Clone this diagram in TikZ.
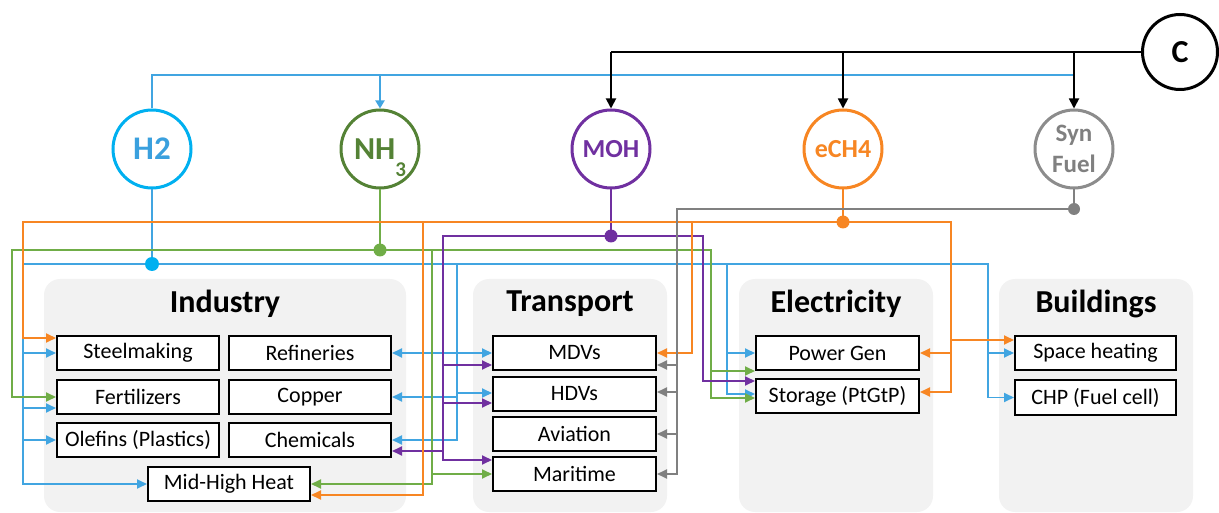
\documentclass[tikz,border=0pt]{standalone}
\usepackage{fontspec}
\setmainfont{Carlito}
\usetikzlibrary{arrows.meta,calc}

\definecolor{panelgray}{RGB}{242,242,242}
\definecolor{hcyan}{RGB}{0,176,240}
\definecolor{htext}{RGB}{58,160,222}
\definecolor{hblue}{RGB}{65,165,225}
\definecolor{ncircle}{RGB}{84,130,53}
\definecolor{ngreen}{RGB}{112,173,71}
\definecolor{mpurple}{RGB}{112,48,160}
\definecolor{eorange}{RGB}{247,134,35}
\definecolor{sgray}{RGB}{128,128,128}
\definecolor{scircle}{RGB}{140,140,140}

\begin{document}
\begin{tikzpicture}[x=1pt,y=-1pt,
  panel/.style={fill=panelgray,rounded corners=16pt},
  hdr/.style={font=\bfseries\fontsize{32}{38}\selectfont},
  sbox/.style={draw,line width=2pt,fill=white,minimum width=162pt,minimum height=34pt,inner sep=0pt,font=\fontsize{22}{26}\selectfont},
  fuel/.style={circle,line width=3pt,minimum size=78pt,inner sep=0pt,fill=white,font=\bfseries\fontsize{26}{31}\selectfont},
  link/.style={line width=1.8pt},
  tip/.style={-{Triangle[length=10pt,width=9pt]}},
  jdot/.style={circle,inner sep=0pt,minimum size=13pt},
]
\useasboundingbox (0,0) rectangle (1219,513);

% sector panels
\begin{scope}
  \clip (0,0) rectangle (1219,513);
  \path[panel] (44,279) rectangle (406,512);
  \path[panel] (473,279) rectangle (667,512);
  \path[panel] (739,279) rectangle (933,512);
  \path[panel] (999,279) rectangle (1193,512);
\end{scope}
\node[hdr] (tind) at (225,304) {Industry};
\node[hdr] (ttra) at (570,304) {Transport};
\node[hdr] (tele) at (836,304) {Electricity};
\node[hdr] (tbui) at (1096,304) {Buildings};

% end uses
\node[sbox] (steel)  at (138,353) {Steelmaking};
\node[sbox] (refin)  at (310,353) {Refineries};
\node[sbox] (fert)   at (138,397) {Fertilizers};
\node[sbox] (copper) at (310,397) {Copper};
\node[sbox] (olef)   at (138,440) {Olefins (Plastics)};
\node[sbox] (chem)   at (310,440) {Chemicals};
\node[sbox] (heat)   at (229,484) {Mid-High Heat};
\node[sbox,minimum width=163pt] (mdv) at (574.5,353) {MDVs};
\node[sbox,minimum width=163pt] (hdv) at (574.5,394) {HDVs};
\node[sbox,minimum width=163pt] (avi) at (574.5,434) {Aviation};
\node[sbox,minimum width=163pt] (mar) at (574.5,474) {Maritime};
\node[sbox,minimum width=163pt] (pgen) at (837.5,353) {Power Gen};
\node[sbox,minimum width=163pt] (stor) at (837.5,396) {Storage (PtGtP)};
\node[sbox,minimum width=161pt] (space) at (1095.5,353) {Space heating};
\node[sbox,minimum width=161pt,minimum height=35pt] (chp) at (1095.5,397.5) {CHP (Fuel cell)};

% carriers
\node[fuel,draw=hcyan,text=htext,font=\bfseries\fontsize{33}{40}\selectfont] (h2) at (152,149) {H2};
\node[fuel,draw=ncircle,text=ncircle,font=\bfseries\fontsize{32}{38}\selectfont] (nh3) at (380,149)
  {NH\raisebox{-17pt}[0pt][0pt]{\fontsize{21}{21}\selectfont 3}};
\node[fuel,draw=mpurple,text=mpurple] (moh) at (611,149) {MOH};
\node[fuel,draw=eorange,text=eorange] (ech4) at (843,149) {eCH4};
\node[fuel,draw=scircle,text=sgray,align=center,font=\bfseries\fontsize{25}{31}\selectfont] (syn) at (1074,149) {Syn\\Fuel};
\node[fuel,draw=black,minimum size=75pt,font=\bfseries\fontsize{32}{38}\selectfont] (c) at (1180,52) {C};

% hydrogen feed line and carbon feed line
\coordinate (hb) at (152,75);
\coordinate (hn) at (380,75);
\coordinate (hs) at (1074,75);
\draw[link,hblue] (h2.north) -- (hb) -- (hs);
\draw[link,hblue,-{Triangle[length=8pt,width=9pt]}] (hn) -- (nh3.north);
\coordinate (cm) at (611,52);
\coordinate (ce) at (843,52);
\coordinate (cs) at (1074,52);
\draw[link,black] (c.west) -- (cm);
\draw[link,black,-{Triangle[length=10pt,width=10pt]}] (cm) -- (moh.north);
\draw[link,black,-{Triangle[length=10pt,width=10pt]}] (ce) -- (ech4.north);
\draw[link,black,-{Triangle[length=10pt,width=10pt]}] (cs) -- (syn.north);

% junction points
\coordinate (hd) at (152,264);
\coordinate (nd) at (380,250);
\coordinate (md) at (611,236);
\coordinate (od) at (843,222);
\coordinate (sd) at (1074,209);

% H2 distribution
\coordinate (b1) at (23,264);
\coordinate (b2) at (457,264);
\coordinate (b3) at (727,264);
\coordinate (b4) at (988,264);
\draw[link,hblue] (h2.south) -- (hd);
\draw[link,hblue,tip] (hd) -- (b1) |- (steel.west);
\draw[link,hblue,tip] (b1) |- ($(fert.west)+(0,11)$);
\draw[link,hblue,tip] (b1) |- (olef.west);
\draw[link,hblue,tip] (b1) |- (heat.west);
\draw[link,hblue,tip] (hd) -- (b2) |- (mdv.west);
\draw[link,hblue,tip] (b2) |- (refin.east);
\draw[link,hblue,tip] (b2) |- (copper.east);
\draw[link,hblue,tip] (b2) |- ($(hdv.west)+(0,-1)$);
\draw[link,hblue,tip] (b2) |- (chem.east);
\draw[link,hblue,tip] (b2) -- (b3) |- (pgen.west);
\draw[link,hblue,tip] (b3) |- ($(stor.west)+(0,-2)$);
\draw[link,hblue,tip] (b3) -- (b4) |- (space.west);
\draw[link,hblue,tip] (b4) |- (chp.west);

% NH3 distribution
\coordinate (g1) at (12,250);
\coordinate (g2) at (432,250);
\coordinate (g3) at (711,250);
\draw[link,ngreen] (nh3.south) -- (nd);
\draw[link,ngreen,tip] (nd) -- (g1) |- (fert.west);
\draw[link,ngreen,tip] (nd) -- (g2) |- (heat.east);
\draw[link,ngreen,tip] (g2) |- (mar.west);
\draw[link,ngreen,tip] (g2) -- (g3) |- (pgen.south west);
\draw[link,ngreen,tip] (g3) |- ($(stor.west)+(0,2)$);

% methanol distribution
\coordinate (p1) at (443,236);
\coordinate (p2) at (703,236);
\draw[link,mpurple] (moh.south) -- (md);
\draw[link,mpurple,tip] (md) -- (p1) |- ($(mdv.west)+(0,12)$);
\draw[link,mpurple,tip] (p1) |- ($(hdv.west)+(0,9)$);
\draw[link,mpurple,tip] (p1) |- ($(chem.east)+(0,11)$);
\draw[link,mpurple,tip] (p1) |- ($(mar.west)+(0,-14)$);
\draw[link,mpurple,tip] (md) -- (p2) |- ($(stor.west)+(0,-15)$);

% methane distribution
\coordinate (o1) at (23,222);
\coordinate (o2) at (423,222);
\coordinate (o3) at (692,222);
\coordinate (o4) at (951,222);
\draw[link,eorange] (ech4.south) -- (od);
\draw[link,eorange,tip] (od) -- (o1) |- ($(steel.west)+(0,-15)$);
\draw[link,eorange,tip] (o2) |- ($(heat.east)+(0,11)$);
\draw[link,eorange,tip] (o3) |- (mdv.east);
\draw[link,eorange,tip] (od) -- (o4) |- (pgen.east);
\draw[link,eorange,tip] (o4) |- ($(stor.east)+(0,-4)$);
\draw[link,eorange,tip] (o4) |- ($(space.west)+(0,-13)$);

% synthetic fuel distribution
\coordinate (s1) at (677,209);
\draw[link,sgray] (syn.south) -- (sd);
\draw[link,sgray,tip] (sd) -- (s1) |- ($(mdv.east)+(0,12)$);
\draw[link,sgray,tip] (s1) |- ($(hdv.east)+(0,-2)$);
\draw[link,sgray,tip] (s1) |- (avi.east);
\draw[link,sgray,tip] (s1) |- (mar.east);

% junction dots
\node[jdot,fill=hcyan,minimum size=14pt] (hdot) at (hd) {};
\node[jdot,fill=ngreen] (ndot) at (nd) {};
\node[jdot,fill=mpurple] (mdot) at (md) {};
\node[jdot,fill=eorange] (odot) at (od) {};
\node[jdot,fill=sgray,minimum size=12pt] (sdot) at (sd) {};
\end{tikzpicture}
\end{document}
